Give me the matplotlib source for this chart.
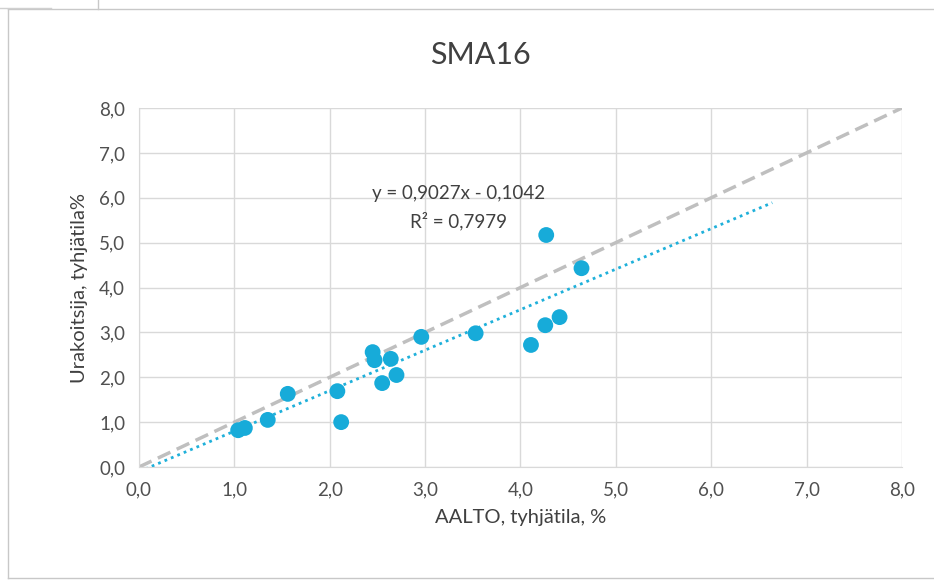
import numpy as np
import matplotlib
matplotlib.use("Agg")
import matplotlib.pyplot as plt
from matplotlib.ticker import FuncFormatter, MultipleLocator

plt.rcParams['font.family'] = ['Lato', 'DejaVu Sans']

title = "SMA16"
x_label = "AALTO, tyhjätila, %"
y_label = "Urakoitsija, tyhjätila%"

aalto = [1.04, 1.11, 1.35, 1.56, 2.08, 2.12, 2.45, 2.47, 2.64, 2.55, 2.70,
         2.96, 3.53, 4.11, 4.26, 4.41, 4.27, 4.64]
urakoitsija = [0.82, 0.87, 1.05, 1.63, 1.69, 1.00, 2.56, 2.38, 2.41, 1.87, 2.05,
               2.90, 2.98, 2.72, 3.16, 3.34, 5.17, 4.43]

eq_text = "y = 0,9027x - 0,1042"
r2_text = "R² = 0,7979"
slope, intercept = 0.9027, -0.1042
trend_forward = 2.0

fig = plt.figure(figsize=(9.34, 5.81), dpi=100)
fig.patch.set_facecolor('white')
ax = fig.add_axes([0.1488, 0.1962, 0.8169, 0.6179])

# spreadsheet / chart-area frame lines
frame = '#C8C8C8'
fig.add_artist(plt.Line2D([0.009, 0.009], [0.006, 0.985], color=frame, lw=1, transform=fig.transFigure))
fig.add_artist(plt.Line2D([0.009, 1.0], [0.985, 0.985], color=frame, lw=1, transform=fig.transFigure))
fig.add_artist(plt.Line2D([0.009, 1.0], [0.006, 0.006], color=frame, lw=1, transform=fig.transFigure))
fig.add_artist(plt.Line2D([0.105, 0.105], [0.985, 1.0], color=frame, lw=1, transform=fig.transFigure))
fig.add_artist(plt.Line2D([0.0, 0.055], [0.987, 0.987], color='#D0D0D0', lw=1, transform=fig.transFigure))

# y = x reference line
ax.plot([0, 8], [0, 8], linestyle=(0, (4, 2)), color='#BFBFBF', lw=2.5, zorder=2)

# trendline
xt = np.array([0, max(aalto) + trend_forward])
ax.plot(xt, slope * xt + intercept, linestyle=(0, (1, 1.5)), color='#1FB0DA', lw=2, zorder=2)

ax.scatter(aalto, urakoitsija, s=130, color='#17ABD9', edgecolors='none', zorder=3)

ax.set_xlim(0, 8)
ax.set_ylim(0, 8)
ax.xaxis.set_major_locator(MultipleLocator(1))
ax.yaxis.set_major_locator(MultipleLocator(1))
fmt = FuncFormatter(lambda v, p: f"{v:.1f}".replace('.', ','))
ax.xaxis.set_major_formatter(fmt)
ax.yaxis.set_major_formatter(fmt)
ax.grid(True, color='#D9D9D9', lw=1)
ax.set_axisbelow(True)
for s in ['top', 'right']:
    ax.spines[s].set_visible(False)
for s in ['bottom', 'left']:
    ax.spines[s].set_color('#D9D9D9')
ax.tick_params(length=0, labelsize=13.5, colors='#505050', pad=10)

ax.set_xlabel(x_label, fontsize=14.5, color='#404040', labelpad=8)
ax.set_ylabel(y_label, fontsize=14.5, color='#404040', labelpad=8)
fig.text(0.514, 0.905, title, fontsize=22, color='#404040', ha='center', va='center')

ax.text(3.35, 6.1, eq_text, fontsize=13.5, color='#404040', ha='center', va='center')
ax.text(3.35, 5.47, r2_text, fontsize=13.5, color='#404040', ha='center', va='center')

fig.savefig("out.png", dpi=100, facecolor='white')
